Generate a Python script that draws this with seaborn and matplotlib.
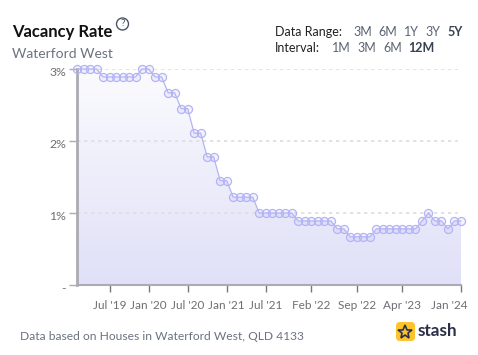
import numpy as np
import pandas as pd
import seaborn as sns
import matplotlib.pyplot as plt
from matplotlib.patches import Circle, FancyBboxPatch, Polygon
from matplotlib.colors import LinearSegmentedColormap
from matplotlib.transforms import ScaledTranslation

months = pd.date_range("2019-02-01", periods=60, freq="MS")
vacancy = [3.0, 3.0, 3.0, 3.0, 2.89, 2.89, 2.89, 2.89, 2.89, 2.89,
           3.0, 3.0, 2.89, 2.89, 2.67, 2.67, 2.45, 2.45, 2.11, 2.11,
           1.78, 1.78, 1.45, 1.45, 1.22, 1.22, 1.22, 1.22, 1.0, 1.0,
           1.0, 1.0, 1.0, 1.0, 0.89, 0.89, 0.89, 0.89, 0.89, 0.89,
           0.78, 0.78, 0.67, 0.67, 0.67, 0.67, 0.78, 0.78, 0.78, 0.78,
           0.78, 0.78, 0.78, 0.89, 1.0, 0.89, 0.89, 0.78, 0.89, 0.89]
tick_months = ["2019-07", "2020-01", "2020-07", "2021-01", "2021-07",
               "2022-02", "2022-09", "2023-04", "2024-01"]
tick_labels = ["Jul '19", "Jan '20", "Jul '20", "Jan '21", "Jul '21",
               "Feb '22", "Sep '22", "Apr '23", "Jan '24"]
y_ticks = [0, 1, 2, 3]
y_labels = ["-", "1%", "2%", "3%"]

W, H = 478, 355
GREY = "#6b7280"
AXIS = "#ababb3"
LINE = "#b4b4f5"

sns.set_theme(style="white")
plt.rcParams["font.family"] = ["Lato", "DejaVu Sans"]

df = pd.DataFrame({"pos": np.arange(len(months)), "vacancy": vacancy})
ticks = [months.get_loc(pd.Timestamp(m + "-01")) for m in tick_months]

fig = plt.figure(figsize=(W / 100, H / 100), dpi=100, facecolor="white")
ax = fig.add_axes([77 / W, 1 - 285 / H, (461 - 77) / W, (285 - 69) / H])

# gradient under the line, clipped to the area
grad = LinearSegmentedColormap.from_list("g", ["#fbfbfe", "#e0e0f8"])
im = ax.imshow(np.linspace(0, 1, 200).reshape(-1, 1), cmap=grad, aspect="auto",
               extent=[0, 59, 0, 3], origin="upper", zorder=1)
area = Polygon(list(zip(df.pos, df.vacancy)) + [(59, 0), (0, 0)], closed=True,
               transform=ax.transData, fc="none", ec="none")
ax.add_patch(area)
im.set_clip_path(area)

sns.lineplot(data=df, x="pos", y="vacancy", ax=ax, color=LINE, lw=0.9, marker="o",
             markersize=5.8, markerfacecolor=(0.7, 0.7, 0.96, 0.15),
             markeredgecolor=LINE, markeredgewidth=0.9, zorder=4, clip_on=False)

ax.set_xlim(0, 59)
ax.set_ylim(0, 3)
ax.set_xlabel("")
ax.set_ylabel("")
for v in y_ticks[1:]:
    ax.plot([0, 58.5], [v, v], color="#dedee1", lw=1.2, dashes=(2, 2.2), zorder=2)

ax.set_xticks(ticks, tick_labels)
ax.set_yticks(y_ticks, y_labels)
ax.tick_params(axis="x", length=5, width=1, color="#77777f", pad=5.5,
               labelsize=8.5, labelcolor="#6e6e74", bottom=True)
ax.tick_params(axis="y", length=6, width=1, color=AXIS, pad=2,
               labelsize=8.8, labelcolor="#6e6e74", left=True)
shift = ScaledTranslation(0, -3 / 100, fig.dpi_scale_trans)
for lab in ax.get_yticklabels():
    lab.set_transform(lab.get_transform() + shift)
# the last label sits left of its tick
last = ax.get_xticklabels()[-1]
last.set_transform(last.get_transform() + ScaledTranslation(-12 / 100, 0, fig.dpi_scale_trans))
for side in ["top", "right"]:
    ax.spines[side].set_visible(False)
ax.spines["left"].set_color(AXIS)
ax.spines["left"].set_linewidth(2)
ax.spines["bottom"].set_color(AXIS)
ax.spines["bottom"].set_linewidth(1.5)

# overlay in pixel coords for the header, footer and logo
ov = fig.add_axes([0, 0, 1, 1], facecolor="none")
ov.set_xlim(0, W)
ov.set_ylim(H, 0)
ov.axis("off")

ov.text(12, 32, "Vacancy Rate", fontsize=12, fontweight="bold", color="#111111", va="center")
ov.text(12, 54, "Waterford West", fontsize=10, color=GREY, va="center")
ov.add_patch(Circle((122.5, 24), 6, fc="none", ec="#4b5563", lw=1))
ov.text(122.5, 24, "?", fontsize=7.5, color="#4b5563", ha="center", va="center")

ov.text(275, 32.5, "Data Range:", fontsize=9, color="#222222", va="center")
for x, t in zip([353, 378, 404, 425], ["3M", "6M", "1Y", "3Y"]):
    ov.text(x, 32.5, t, fontsize=9, color="#5b6472", va="center")
ov.text(447, 32.5, "5Y", fontsize=9, fontweight="bold", color="#374151", va="center")
ov.text(275, 48.5, "Interval:", fontsize=9, color="#222222", va="center")
for x, t in zip([332, 357, 383], ["1M", "3M", "6M"]):
    ov.text(x, 48.5, t, fontsize=9, color="#5b6472", va="center")
ov.text(408, 48.5, "12M", fontsize=9, fontweight="bold", color="#374151", va="center")

ov.text(20, 337, "Data based on Houses in Waterford West, QLD 4133", fontsize=8.65,
        color=GREY, va="center")

ov.add_patch(FancyBboxPatch((399, 325), 13, 13, boxstyle="round,pad=3,rounding_size=4",
                            fc="#fcc32c", ec="none"))
ov.plot([405.5], [331.5], marker="*", ms=10.5, mfc="#fcc32c", mec="#2b3046", mew=1.2)
ov.text(418, 331, "stash", fontsize=12.3, fontweight="bold", color="#2b3046", va="center")

fig.savefig("out.png", dpi=100)
